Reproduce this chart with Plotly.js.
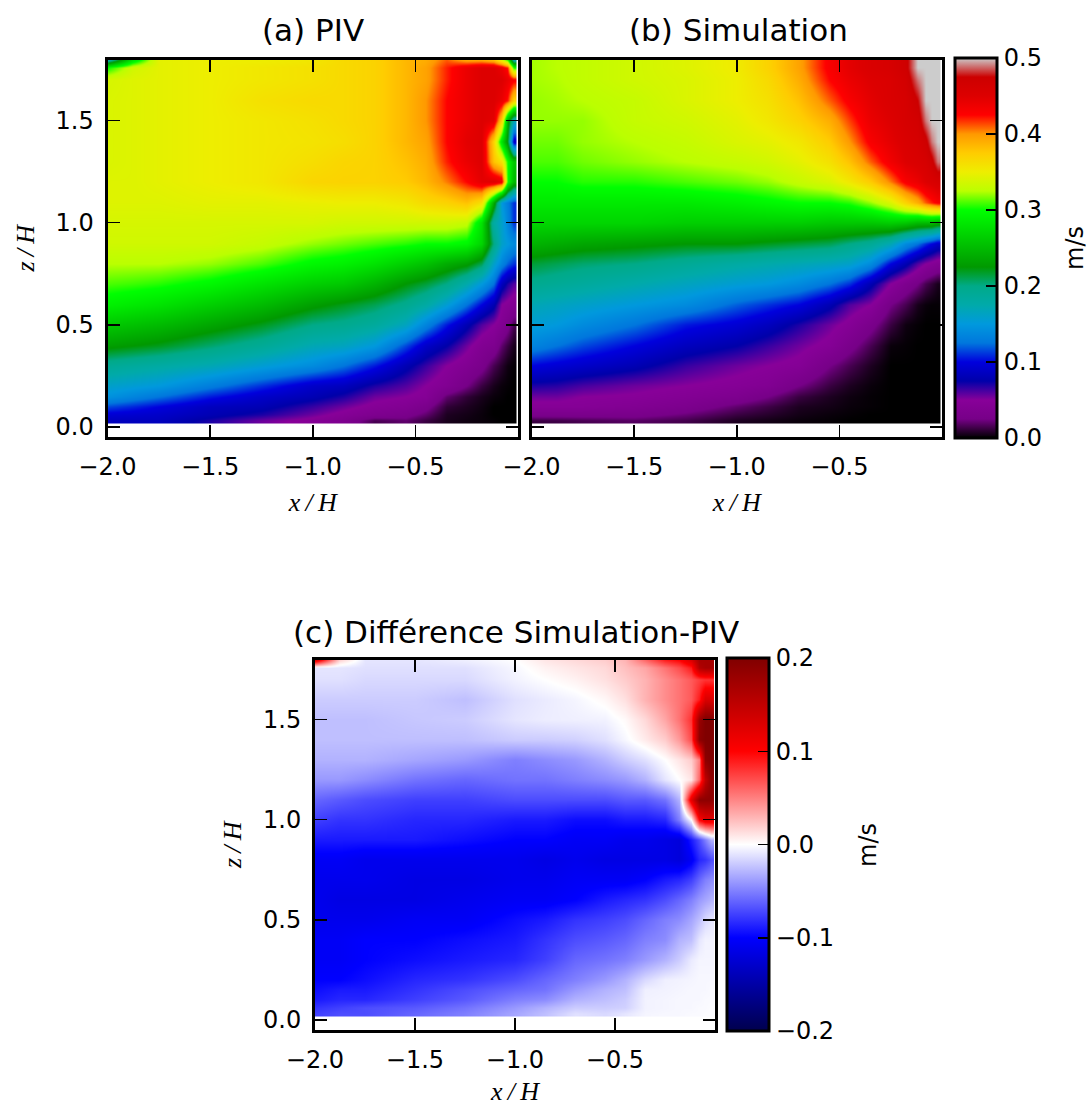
<!DOCTYPE html>
<html><head><meta charset="utf-8">
<script src="https://cdn.plot.ly/plotly-3.0.1.min.js"></script>
<style>html,body{margin:0;padding:0;background:#fff}</style></head>
<body><div id="chart" style="width:1088px;height:1106px"></div>
<script>
const xGrid=[-2,-1.88,-1.75,-1.5,-1.25,-1,-.85,-.7,-.55,-.45,-.35,-.25,-.18,-.12,-.08,-.05,-.02];
const zGrid=[.03,.06,.1,.15,.2,.3,.4,.5,.6,.7,.8,.9,1.0,1.1,1.2,1.3,1.4,1.5,1.6,1.7,1.76,1.8];
const tickX=[-2,-1.5,-1,-.5];
const tickZ=[0,.5,1,1.5];
const speedTicks=[0,.1,.2,.3,.4,.5];
const diffTicks=[-.2,-.1,0,.1,.2];

const piv=[
[.085,.085,.085,.07,.055,.045,.035,.015,.02,.012,.005,.003,.002,.001,0,0,0],
[.095,.093,.09,.08,.07,.055,.045,.035,.03,.02,.006,.004,.002,0,0,0,0],
[.115,.108,.1,.085,.08,.065,.055,.045,.04,.03,.01,.006,.003,0,0,0,0],
[.145,.135,.125,.105,.09,.08,.07,.055,.05,.045,.02,.01,.005,.002,.001,0,0],
[.16,.155,.15,.13,.11,.09,.085,.07,.06,.05,.04,.025,.012,.005,.002,.001,0],
[.19,.185,.18,.17,.155,.14,.125,.105,.08,.065,.05,.04,.03,.015,.008,.003,.001],
[.23,.225,.22,.205,.19,.17,.165,.15,.115,.09,.075,.055,.04,.035,.02,.012,.005],
[.26,.255,.25,.235,.22,.2,.195,.185,.165,.135,.105,.08,.06,.05,.04,.03,.015],
[.29,.285,.28,.265,.25,.23,.22,.21,.195,.18,.155,.125,.1,.08,.05,.045,.04],
[.31,.308,.305,.295,.28,.265,.26,.245,.225,.215,.2,.175,.15,.125,.085,.07,.06],
[.325,.325,.325,.32,.31,.295,.29,.28,.265,.255,.24,.23,.21,.16,.135,.12,.11],
[.335,.335,.335,.335,.33,.32,.315,.31,.305,.3,.3,.295,.27,.2,.16,.15,.14],
[.338,.338,.338,.338,.338,.338,.335,.335,.335,.335,.335,.33,.28,.18,.16,.135,.11],
[.342,.342,.342,.345,.345,.348,.35,.35,.355,.365,.37,.38,.36,.24,.15,.13,.11],
[.342,.342,.345,.35,.355,.368,.37,.37,.375,.385,.405,.425,.445,.45,.44,.3,.25],
[.34,.342,.345,.35,.355,.362,.368,.37,.38,.39,.42,.44,.45,.38,.36,.3,.26],
[.34,.342,.345,.35,.355,.358,.362,.37,.385,.395,.425,.445,.45,.37,.28,.22,.09],
[.34,.342,.345,.35,.355,.36,.365,.37,.385,.4,.425,.44,.45,.445,.37,.24,.17],
[.34,.342,.345,.35,.36,.365,.365,.37,.385,.4,.425,.44,.45,.45,.44,.42,.37],
[.338,.342,.345,.35,.355,.36,.365,.37,.385,.395,.42,.44,.45,.45,.45,.44,.43],
[.3,.335,.345,.35,.355,.36,.365,.37,.385,.395,.42,.44,.45,.45,.44,.42,.3],
[.17,.28,.345,.35,.35,.355,.365,.37,.385,.39,.41,.39,.39,.38,.34,.3,.17]
];
const simulation=[
[.012,.013,.015,.018,.014,.006,.004,.002,.001,0,0,0,0,0,0,0,0],
[.03,.03,.03,.03,.022,.012,.008,.004,.002,.001,0,0,0,0,0,0,0],
[.045,.045,.045,.04,.033,.02,.013,.006,.004,.002,.001,0,0,0,0,0,0],
[.055,.055,.05,.048,.042,.035,.025,.012,.006,.003,.001,0,0,0,0,0,0],
[.07,.068,.062,.055,.05,.045,.04,.025,.012,.006,.002,0,0,0,0,0,0],
[.1,.095,.09,.08,.065,.055,.05,.045,.025,.015,.006,0,0,0,0,0,0],
[.135,.125,.115,.1,.085,.075,.065,.055,.045,.03,.015,.002,.001,0,0,0,0],
[.155,.15,.14,.125,.105,.095,.085,.07,.055,.045,.03,.012,.003,.001,0,0,0],
[.17,.165,.16,.15,.14,.12,.11,.1,.08,.06,.05,.025,.015,.005,.002,.001,.001],
[.195,.19,.185,.175,.165,.155,.15,.14,.125,.11,.08,.05,.035,.025,.015,.01,.005],
[.215,.21,.205,.2,.19,.18,.175,.17,.165,.16,.14,.1,.08,.06,.05,.045,.04],
[.245,.24,.235,.23,.225,.225,.22,.215,.21,.2,.19,.17,.14,.125,.11,.1,.09],
[.27,.27,.27,.27,.265,.265,.265,.265,.26,.26,.26,.265,.26,.25,.25,.25,.24],
[.285,.285,.285,.285,.285,.29,.295,.3,.3,.305,.32,.34,.37,.39,.41,.42,.43],
[.3,.3,.305,.305,.31,.315,.32,.33,.34,.355,.375,.405,.43,.44,.45,.455,.46],
[.31,.31,.315,.32,.325,.33,.335,.345,.36,.38,.41,.435,.45,.455,.46,.47,.49],
[.315,.315,.32,.325,.33,.34,.345,.355,.375,.4,.43,.445,.455,.46,.47,.49,.5],
[.32,.32,.32,.33,.335,.345,.355,.37,.39,.415,.44,.45,.46,.465,.49,.5,.5],
[.32,.322,.325,.33,.34,.35,.36,.38,.41,.43,.445,.455,.46,.475,.5,.5,.5],
[.322,.324,.328,.335,.34,.35,.365,.39,.425,.44,.45,.455,.465,.49,.5,.5,.5],
[.322,.325,.328,.335,.342,.352,.37,.395,.43,.445,.455,.46,.47,.5,.5,.5,.5],
[.322,.325,.328,.335,.342,.352,.37,.395,.43,.445,.455,.46,.47,.5,.5,.5,.5]
];
const difference=[
[-.075,-.07,-.07,-.06,-.05,-.035,-.025,-.012,-.015,-.01,-.004,-.003,-.003,-.002,-.002,-.001,-.001],
[-.08,-.075,-.07,-.065,-.055,-.04,-.03,-.02,-.02,-.018,-.005,-.004,-.003,-.003,-.002,-.002,-.001],
[-.09,-.085,-.085,-.075,-.065,-.05,-.045,-.03,-.025,-.02,-.005,-.004,-.003,-.003,-.003,-.002,-.002],
[-.095,-.09,-.09,-.08,-.07,-.06,-.055,-.04,-.03,-.025,-.006,-.005,-.004,-.003,-.003,-.003,-.002],
[-.1,-.1,-.095,-.085,-.08,-.07,-.06,-.05,-.04,-.03,-.015,-.006,-.005,-.004,-.003,-.003,-.003],
[-.105,-.105,-.1,-.095,-.09,-.085,-.075,-.06,-.055,-.05,-.04,-.03,-.02,-.008,-.004,-.004,-.004],
[-.105,-.105,-.1,-.1,-.095,-.09,-.08,-.07,-.065,-.06,-.05,-.045,-.03,-.025,-.01,-.005,-.005],
[-.11,-.11,-.11,-.105,-.105,-.095,-.09,-.08,-.075,-.07,-.06,-.05,-.045,-.035,-.025,-.015,-.01],
[-.11,-.115,-.115,-.115,-.11,-.105,-.105,-.1,-.09,-.085,-.08,-.07,-.06,-.05,-.04,-.035,-.03],
[-.11,-.11,-.11,-.115,-.115,-.11,-.11,-.105,-.105,-.105,-.1,-.09,-.085,-.075,-.06,-.05,-.045],
[-.105,-.105,-.11,-.11,-.11,-.11,-.115,-.11,-.115,-.115,-.115,-.115,-.12,-.105,-.085,-.08,-.07],
[-.09,-.09,-.09,-.09,-.095,-.1,-.1,-.105,-.105,-.11,-.11,-.115,-.12,-.09,-.07,-.05,-.03],
[-.075,-.08,-.08,-.085,-.085,-.09,-.09,-.095,-.095,-.09,-.09,-.085,-.05,0,.1,.12,.12],
[-.06,-.065,-.07,-.075,-.075,-.07,-.07,-.07,-.07,-.065,-.065,-.055,-.03,.12,.19,.19,.19],
[-.04,-.04,-.045,-.055,-.06,-.055,-.055,-.05,-.045,-.04,-.03,-.01,0,.01,.06,.15,.19],
[-.03,-.03,-.03,-.035,-.04,-.05,-.045,-.04,-.03,-.02,-.012,0,.01,.02,.05,.19,.2],
[-.025,-.025,-.025,-.025,-.025,-.02,-.02,-.018,-.012,-.003,.008,.02,.04,.07,.19,.2,.2],
[-.025,-.025,-.025,-.022,-.02,-.01,-.007,-.006,-.005,.002,.015,.035,.055,.08,.18,.2,.2],
[-.02,-.02,-.02,-.02,-.025,-.012,-.008,-.004,.003,.012,.03,.045,.055,.065,.09,.13,.13],
[-.012,-.012,-.015,-.015,-.015,-.005,0,.005,.012,.02,.03,.045,.055,.065,.075,.08,.08],
[-.01,-.01,-.012,-.012,-.012,-.003,.005,.01,.015,.025,.035,.055,.07,.09,.16,.17,.17],
[.13,.02,-.01,-.01,-.006,0,.01,.015,.02,.03,.06,.09,.1,.13,.17,.17,.17]
];
const spectral=[[0,'rgb(0,0,0)'],[.05,'rgb(119,0,136)'],[.1,'rgb(136,0,153)'],[.15,'rgb(0,0,170)'],[.2,'rgb(0,0,221)'],[.25,'rgb(0,119,221)'],[.3,'rgb(0,153,221)'],[.35,'rgb(0,170,170)'],[.4,'rgb(0,170,136)'],[.45,'rgb(0,153,0)'],[.5,'rgb(0,187,0)'],[.55,'rgb(0,221,0)'],[.6,'rgb(0,255,0)'],[.65,'rgb(187,255,0)'],[.7,'rgb(238,238,0)'],[.75,'rgb(255,204,0)'],[.8,'rgb(255,153,0)'],[.85,'rgb(255,0,0)'],[.9,'rgb(221,0,0)'],[.95,'rgb(204,0,0)'],[1,'rgb(204,204,204)']];
const seismic=[[0,'rgb(0,0,77)'],[.25,'rgb(0,0,255)'],[.5,'rgb(255,255,255)'],[.75,'rgb(255,0,0)'],[1,'rgb(128,0,0)']];

const W=1088,H=1106,FONT='"DejaVu Sans",sans-serif',MATH='"Liberation Serif",serif';
const dx=(a,b)=>[a/W,b/W], dy=(t,b)=>[1-b/H,1-t/H];
function colorbar(left,top,bottom,vals){return {x:left/W,xanchor:'left',y:1-bottom/H,yanchor:'bottom',
  lenmode:'pixels',len:bottom-top,thicknessmode:'pixels',thickness:42,xpad:0,ypad:0,
  outlinewidth:3,outlinecolor:'#000',ticks:'inside',ticklen:12,tickwidth:1.5,tickcolor:'#000',
  tickmode:'array',tickvals:vals,tickformat:'.1f',tickfont:{family:FONT,size:24,color:'#000'}};}
function hm(z,xa,ya,scale,zmin,zmax,bar){return {type:'heatmap',x:xGrid,y:zGrid,z:z,xaxis:xa,yaxis:ya,colorscale:scale,
  zmin:zmin,zmax:zmax,zsmooth:'best',hoverinfo:'skip',showscale:!!bar,colorbar:bar||undefined};}
function xax(dom,anchor){return {domain:dom,anchor:anchor,range:[-2,0],tickmode:'array',tickvals:tickX,tickformat:'.1f',
  ticks:'inside',ticklen:12,tickwidth:1.5,tickcolor:'#000',mirror:'ticks',showline:true,linewidth:3,linecolor:'#000',showgrid:false,zeroline:false,
  tickfont:{family:FONT,size:24,color:'#000'},ticklabelstandoff:6,
  title:{text:'<i>x\u2009/\u2009H</i>',font:{family:MATH,size:26,color:'#000'},standoff:14}};}
function yax(dom,anchor,labels){return {domain:dom,anchor:anchor,range:[-.05,1.8],tickmode:'array',tickvals:tickZ,tickformat:'.1f',
  ticks:'inside',ticklen:12,tickwidth:1.5,tickcolor:'#000',mirror:'ticks',showline:true,linewidth:3,linecolor:'#000',showgrid:false,zeroline:false,
  showticklabels:labels,tickfont:{family:FONT,size:24,color:'#000'},ticklabelstandoff:6,
  title:labels?{text:'<i>z\u2009/\u2009H</i>',font:{family:MATH,size:26,color:'#000'},standoff:14}:undefined};}
function note(text,x,y,size,angle){return {text:text,xref:'paper',yref:'paper',x:x/W,y:1-y/H,xanchor:'center',yanchor:'middle',
  showarrow:false,textangle:angle||0,font:{family:FONT,size:size,color:'#000'}};}

const data=[
 hm(piv,'x','y',spectral,0,.5),
 hm(simulation,'x2','y2',spectral,0,.5,colorbar(955,58,438,speedTicks)),
 hm(difference,'x3','y3',seismic,-.2,.2,colorbar(727,658,1031,diffTicks))
];
const layout={width:W,height:H,margin:{l:0,r:0,t:0,b:0,autoexpand:false},paper_bgcolor:'#fff',plot_bgcolor:'#fff',showlegend:false,
 font:{family:FONT,color:'#000'},
 xaxis:xax(dx(107.5,518),'y'),yaxis:yax(dy(59.5,437),'x',true),
 xaxis2:xax(dx(531.5,942),'y2'),yaxis2:yax(dy(59.5,437),'x2',false),
 xaxis3:xax(dx(315,715),'y3'),yaxis3:yax(dy(659.5,1030),'x3',true),
 annotations:[note('(a) PIV',313,30,31),note('(b) Simulation',738,30,31),note('(c) Différence Simulation-PIV',516,632,31),
  note('m/s',1075,248,24,-90),note('m/s',868,845,24,-90)]};
Plotly.newPlot('chart',data,layout,{displayModeBar:false,staticPlot:true});
</script></body></html>
